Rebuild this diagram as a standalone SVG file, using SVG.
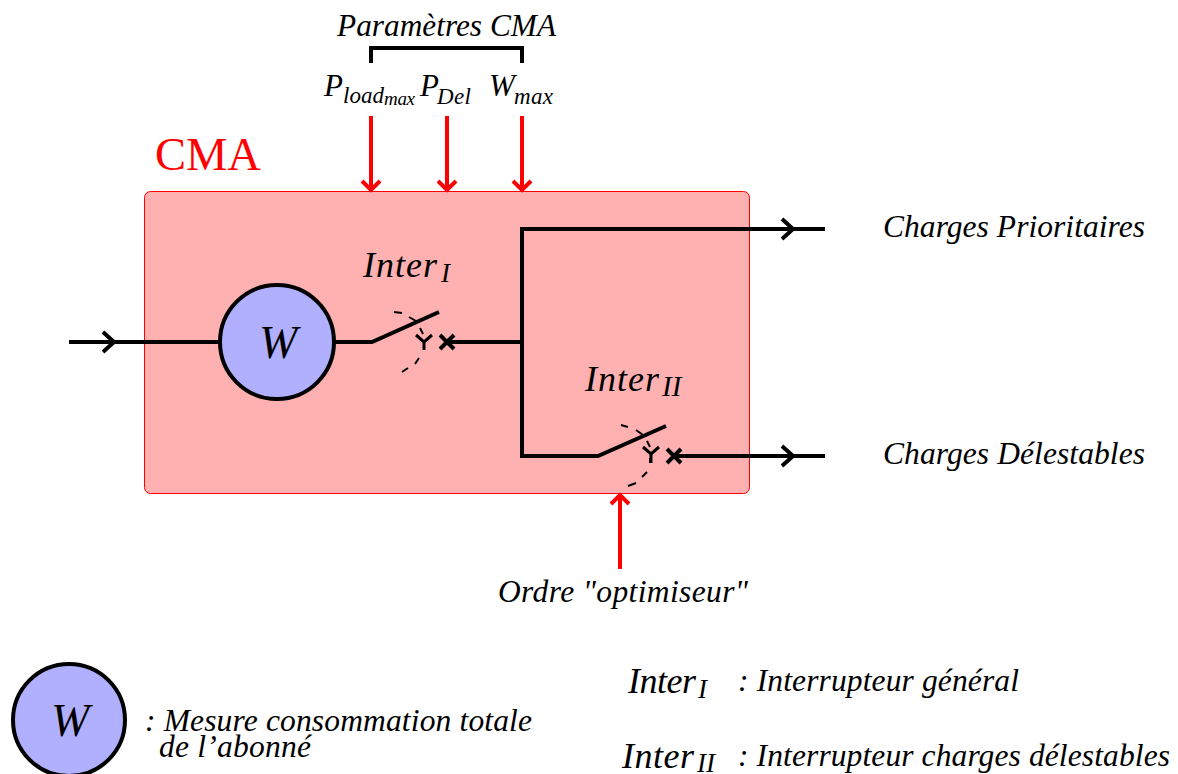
<svg xmlns="http://www.w3.org/2000/svg" width="1178" height="774" viewBox="0 0 1178 774">
<style>
text{font-family:"Liberation Serif","Times New Roman",serif;font-style:italic;fill:#000}
.t{font-size:31.500px}
.lg{font-size:36px}
.sub{font-size:27px}
.w{stroke:#000;stroke-width:4;fill:none}
.r{stroke:#f00;stroke-width:4;fill:none}
.d{stroke:#000;stroke-width:2;fill:none}
.y{stroke:#000;stroke-width:3;fill:none}
</style>
<g id="cma">
<rect x="144.500" y="191.500" width="605" height="302" rx="6" fill="#ffb0b0" stroke="#f00" stroke-width="1"/>
<text x="155" y="170" font-size="46.500" style="font-style:normal;fill:#f00">CMA</text>
</g>
<g id="connectors">
<path class="w" d="M69 342H219M334 342H372L439 312"/>
<path class="w" d="M447 342H522M825 229H522V456H598L666 426M674 456H825"/>
<path class="w" d="M103 332L114 342L103 352M782 219L793 229L782 239M782 446L793 456L782 466"/>
<path class="w" d="M440 335L454 349M454 335L440 349M667 449L681 463M681 449L667 463"/>
<path class="r" d="M371 116V190M362 181L371 190L380 181M447 116V190M438 181L447 190L456 181M522 116V190M513 181L522 190L531 181"/>
<path class="r" d="M620 569V495M611 504L620 495L629 504"/>
<path class="w" d="M371 63V48H522V63"/>
<path class="d" d="M394 312L402 313M409 317L416 321M420 328L423 334M419 358L415 364M408 368L402 372"/>
<path class="y" d="M416 335L424 342L432 335M424 342V350"/>
<path class="d" d="M621 425L628 427M636 430L643 435M647 441L650 447M650 458V463M647 472L642 477M636 483L628 486"/>
<path class="y" d="M643 447L651 454L659 447M651 454V463"/>
</g>
<g id="meter"><circle cx="277" cy="342" r="57" fill="#b0b0ff" stroke="#000" stroke-width="4"/><text x="259" y="358" font-size="46">W</text></g>
<g id="labels-top">
<text x="337" y="36" font-size="31.300" textLength="219">Paramètres CMA</text>
<text x="324" y="96" font-size="31">P</text><text x="343" y="103" font-size="23" textLength="41">load</text><text x="384" y="105" font-size="19" textLength="31">max</text>
<text x="420" y="96" font-size="31">P</text><text x="437" y="104" font-size="23" textLength="34">Del</text>
<text x="489" y="96" font-size="31">W</text><text x="514" y="104" font-size="23" textLength="39">max</text>
</g>
<g id="inter1-label"><text x="363" y="277" class="lg" textLength="74">Inter</text><text x="441" y="282" class="sub">I</text></g>
<g id="inter2-label"><text x="585" y="391" class="lg" textLength="74">Inter</text><text x="662" y="396" font-size="29">II</text></g>
<g id="outputs">
<text x="883" y="237" class="t" textLength="262">Charges Prioritaires</text>
<text x="883" y="464" class="t" textLength="262">Charges Délestables</text>
<text x="498" y="602" class="t" textLength="250">Ordre "optimiseur"</text>
</g>
<g id="legend-meter"><circle cx="69" cy="720" r="56" fill="#b0b0ff" stroke="#000" stroke-width="4"/><text x="51" y="736" font-size="46">W</text>
<text x="145" y="731" class="t" textLength="387">: Mesure consommation totale</text>
<text x="159" y="757" class="t" textLength="152">de l’abonné</text></g>
<g id="legend-inter">
<text x="628" y="693" class="lg" textLength="68">Inter</text><text x="698" y="698" class="sub">I</text>
<text x="738" y="691" class="t" textLength="281">: Interrupteur général</text>
<text x="622" y="768" class="lg" textLength="72">Inter</text><text x="697" y="772" font-size="27">II</text>
<text x="738" y="766" class="t" textLength="432">: Interrupteur charges délestables</text>
</g>
</svg>
